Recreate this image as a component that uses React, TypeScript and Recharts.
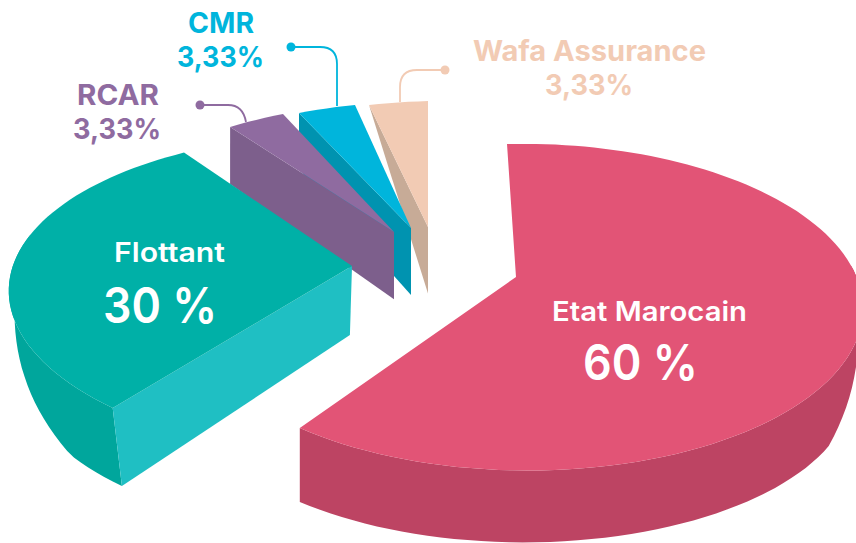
import { PieChart, Pie } from 'recharts'

// listed from the back slice to the front one, so the paint order stacks them right
const names = ['Wafa Assurance', 'CMR', 'RCAR', 'Flottant', 'Etat Marocain']
const shares = [3.33, 3.33, 3.33, 30, 60]
const shareLabels = ['3,33%', '3,33%', '3,33%', '30 %', '60 %']

const chartData = names.map((name, i) => ({ name, value: shares[i], shareLabel: shareLabels[i] }))

const FONT = 'Inter, sans-serif'
const VANISH = { x: 300, y: 2000 } // point the vertical edges run toward

// how each exploded slice sits on the page
const looks: Record<string, any> = {
  'Wafa Assurance': { top: '#f2cbb4', wall: '#c7ab97', cut: '#c7ab97', shift: [-88, -50], warp: [0.9883, -0.1117, 0.0029, 0.9491], m: 0.03, lean: 0, fade: 0.8, sinkOuter: 0, sinkApex: 0.0375 },
  CMR: { top: '#00b5dc', wall: '#0093b0', cut: '#0093b0', shift: [-105, -49], warp: [0.9649, -0.1214, 0.0117, 0.952], m: 0.03, lean: 0, fade: 0.8, sinkOuter: 0.03, sinkApex: 0.0378 },
  RCAR: { top: '#8f6ba0', wall: '#7d5f8c', cut: '#7d5f8c', shift: [-122, -45], warp: [0.9643, -0.1293, 0.0112, 0.9777], m: 0.03, lean: 0, fade: 0.8, sinkOuter: 0.0305, sinkApex: 0.038 },
  Flottant: { top: '#00b0a7', wall: '#00a69c', cut: '#1fbfc3', shift: [-164, -11], warp: [0.9959, -0.1543, 0.0473, 0.9872], m: 0.02, lean: 1, fade: 0.8, sinkOuter: 0.049, sinkApex: 0.0398 },
  'Etat Marocain': { top: '#e25476', wall: '#bd4463', cut: null, shift: [0, 0], warp: [0.9753, -0.0424, 0.011, 1.001], m: 0.03, lean: 0.38, fade: 0.6, sinkOuter: 0.047, sinkApex: 0.04 },
}

// where each label goes, plus its leader line
const labelLayout: Record<string, any> = {
  'Wafa Assurance': { x1: 589.5, x2: 589, y1: 61, y2: 95, w1: 233, w2: 88, size: 28, weight: 700, fill: '#f2cbb4', leader: 'M445 70 H417 Q400 70 400 87 V102', dot: [445, 70] },
  CMR: { x1: 221, x2: 220.5, y1: 33, y2: 67, w1: 66, w2: 87, size: 28, weight: 700, fill: '#00b5dc', leader: 'M291 47 H320 Q337 47 337 64 V106', dot: [291, 47] },
  RCAR: { x1: 118, x2: 117, y1: 105, y2: 139, w1: 82, w2: 88, size: 28, weight: 700, fill: '#8f6ba0', leader: 'M200 105 H228 Q243 105 246 122', dot: [200, 105] },
  Flottant: { x1: 169.5, x2: 160, y1: 262, y2: 323, w1: 111, w2: 114, size: 27, big: 50, weight: 600, fill: '#ffffff' },
  'Etat Marocain': { x1: 649.5, x2: 640.5, y1: 321, y2: 380, w1: 195, w2: 115, size: 27, big: 50, weight: 600, fill: '#ffffff' },
}

function Slice3D(props: any) {
  const { cx, cy, outerRadius, startAngle, endAngle, name } = props
  const look = looks[name]
  const [ax, bx, ay, by] = look.warp
  const rx = outerRadius * 2.16
  const originX = cx + look.shift[0]
  const originY = cy + look.shift[1]

  const rim = (deg: number) => {
    const rad = (-deg * Math.PI) / 180
    const u = Math.cos(rad)
    const v = Math.sin(rad)
    const w = 1 - 0.184 * v - look.m * u
    const X = (rx * u) / w
    const Y = (outerRadius * v) / w
    return { x: originX + ax * X + bx * Y, y: originY + ay * X + by * Y, v }
  }
  const sink = (p: { x: number; y: number }, t: number) => ({
    x: p.x + (VANISH.x - p.x) * t * look.lean,
    y: p.y + (VANISH.y - p.y) * t,
    v: 0,
  })
  const toPath = (pts: { x: number; y: number }[]) =>
    'M' + pts.map((p) => `${p.x.toFixed(1)} ${p.y.toFixed(1)}`).join(' L') + ' Z'

  const arc: { x: number; y: number; v: number }[] = []
  const steps = Math.max(4, Math.ceil(Math.abs(endAngle - startAngle) / 2))
  for (let i = 0; i <= steps; i++) arc.push(rim(startAngle + ((endAngle - startAngle) * i) / steps))

  // the rim wall thins out toward the sides and vanishes at the back
  const wallFade = (v: number) => Math.min(1, Math.max(0, (v + 0.1) / look.fade))

  const apex = { x: originX, y: originY, v: 0 }
  const last = arc[arc.length - 1]
  const wallPts = [...arc, ...arc.map((p) => sink(p, look.sinkOuter * wallFade(p.v))).reverse()]
  const cutPts = [last, apex, sink(apex, look.sinkApex), sink(last, look.sinkOuter)]

  return (
    <g>
      <path d={toPath(wallPts)} fill={look.wall} />
      {look.cut && <path d={toPath(cutPts)} fill={look.cut} />}
      <path d={toPath([apex, ...arc])} fill={look.top} />
    </g>
  )
}

function SliceLabel(props: any) {
  const { name, shareLabel } = props
  const at = labelLayout[name]
  return (
    <g fontFamily={FONT} fontWeight={at.weight} textAnchor="middle" fill={at.fill}>
      {at.leader && <path d={at.leader} fill="none" stroke={at.fill} strokeWidth={1.8} />}
      {at.dot && <circle cx={at.dot[0]} cy={at.dot[1]} r={4.5} fill={at.fill} stroke="none" />}
      <text x={at.x1} y={at.y1} fontSize={at.size} stroke="none" fill={at.fill} textLength={at.w1} lengthAdjust="spacingAndGlyphs">{name}</text>
      <text x={at.x2} y={at.y2} fontSize={at.big ?? at.size} stroke="none" fill={at.fill} textLength={at.w2} lengthAdjust="spacingAndGlyphs">{shareLabel}</text>
    </g>
  )
}

export default function App() {
  return (
    <div style={{ position: 'absolute', left: 0, top: 0, width: 856, height: 543, overflow: 'hidden', background: '#fff' }}>
      <PieChart width={856} height={543} margin={{ top: 0, right: 0, bottom: 0, left: 0 }}>
        <Pie
          data={chartData}
          dataKey="value"
          nameKey="name"
          cx={516}
          cy={277}
          outerRadius={157.5}
          startAngle={93}
          endAngle={453}
          stroke="none"
          shape={Slice3D}
          inactiveShape={Slice3D}
          activeShape={Slice3D}
          label={SliceLabel}
          labelLine={false}
          isAnimationActive={false}
        />
      </PieChart>
    </div>
  )
}
